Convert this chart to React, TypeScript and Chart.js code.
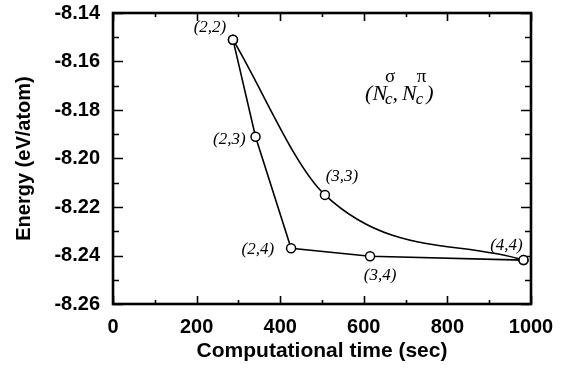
import React, { useEffect, useRef } from "react";
import { Chart, registerables } from "chart.js";

Chart.register(...registerables);

// Data
const seriesATime = [287, 341, 426, 615, 982];
const seriesAEnergy = [-8.151, -8.191, -8.237, -8.2403, -8.2419];
const seriesALabels = ["(2,2)", "(2,3)", "(2,4)", "(3,4)", "(4,4)"];

const seriesBTime = [287, 507, 982];
const seriesBEnergy = [-8.151, -8.215, -8.2419];
const seriesBLabels = ["", "(3,3)", ""];

const xMin = 0;
const xMax = 1000;
const xStep = 200;
const xMinorStep = 100;
const yMin = -8.26;
const yMax = -8.14;
const yStep = 0.02;
const yMinorStep = 0.01;

const xTitle = "Computational time (sec)";
const yTitle = "Energy (eV/atom)";

// Note position (data coordinates) for the (N_c^σ, N_c^π) legend text
const noteX = 603;
const noteY = -8.1758;

const SANS = '"Liberation Sans", Arial, Helvetica, sans-serif';
const SERIF = '"Liberation Serif", "Times New Roman", serif';

type Off = { dx: number; dy: number; align: CanvasTextAlign };
const offsA: Off[] = [
  { dx: -23, dy: -12, align: "center" },
  { dx: -10, dy: 3, align: "right" },
  { dx: -17, dy: 1, align: "right" },
  { dx: 10, dy: 19, align: "center" },
  { dx: -17, dy: -15, align: "center" },
];
const offsB: Off[] = [
  { dx: 0, dy: 0, align: "center" },
  { dx: 17, dy: -18, align: "center" },
  { dx: 0, dy: 0, align: "center" },
];

const framePlugin = {
  id: "frameTicks",
  beforeDatasetsDraw(chart: any) {
    const { ctx, chartArea } = chart;
    const xs = chart.scales.x;
    const ys = chart.scales.y;
    const { left, right, top, bottom } = chartArea;
    ctx.save();
    ctx.strokeStyle = "#000";
    ctx.lineWidth = 1.6;
    const nx = Math.round((xMax - xMin) / xMinorStep);
    for (let i = 0; i <= nx; i++) {
      const v = xMin + i * xMinorStep;
      const px = Math.round(xs.getPixelForValue(v)) + 0.5;
      const major = i % Math.round(xStep / xMinorStep) === 0;
      const len = major ? 8 : 4;
      ctx.beginPath();
      ctx.moveTo(px, bottom);
      ctx.lineTo(px, bottom - len);
      ctx.moveTo(px, top);
      ctx.lineTo(px, top + len);
      ctx.stroke();
    }
    const ny = Math.round((yMax - yMin) / yMinorStep);
    for (let i = 0; i <= ny; i++) {
      const v = yMin + i * yMinorStep;
      const py = Math.round(ys.getPixelForValue(v)) + 0.5;
      const major = i % Math.round(yStep / yMinorStep) === 0;
      const len = major ? 10 : 6;
      ctx.beginPath();
      ctx.moveTo(left, py);
      ctx.lineTo(left + len, py);
      ctx.moveTo(right, py);
      ctx.lineTo(right - len, py);
      ctx.stroke();
    }
    ctx.lineWidth = 2.6;
    ctx.strokeRect(left, top, right - left, bottom - top);
    ctx.restore();
  },
  afterDatasetsDraw(chart: any) {
    const { ctx } = chart;
    ctx.save();
    ctx.fillStyle = "#000";
    ctx.textBaseline = "middle";
    ctx.font = `italic 17px ${SERIF}`;
    const drawLabels = (di: number, labels: string[], offs: Off[]) => {
      const meta = chart.getDatasetMeta(di);
      labels.forEach((t, i) => {
        if (!t) return;
        const el = meta.data[i];
        ctx.textAlign = offs[i].align;
        ctx.fillText(t, el.x + offs[i].dx, el.y + offs[i].dy);
      });
    };
    drawLabels(0, seriesALabels, offsA);
    drawLabels(1, seriesBLabels, offsB);

    // (N_c^σ, N_c^π)
    const xs = chart.scales.x;
    const ys = chart.scales.y;
    let x = xs.getPixelForValue(noteX);
    const base = ys.getPixelForValue(noteY);
    ctx.textBaseline = "alphabetic";
    ctx.textAlign = "left";
    const mainFont = `italic 22px ${SERIF}`;
    const subFont = `italic 17px ${SERIF}`;
    const supFont = `19px ${SERIF}`;
    const put = (t: string, font: string, dy: number, dx = 0) => {
      ctx.font = font;
      ctx.fillText(t, x + dx, base + dy);
      return ctx.measureText(t).width;
    };
    x += put("(", mainFont, 0);
    x += put("N", mainFont, 0) - 2;
    put("σ", supFont, -18, 0);
    x += put("c", subFont, 4);
    x += put(",", mainFont, 0) + 4;
    x += put("N", mainFont, 0) - 1;
    put("π", supFont, -18, 1);
    x += put("c", subFont, 4) + 3;
    put(")", mainFont, 0);
    ctx.restore();
  },
};

export default function App() {
  const canvasRef = useRef<HTMLCanvasElement | null>(null);

  useEffect(() => {
    if (!canvasRef.current) return;
    const dataA = seriesATime.map((t, i) => ({ x: t, y: seriesAEnergy[i] }));
    const dataB = seriesBTime.map((t, i) => ({ x: t, y: seriesBEnergy[i] }));
    const pointStyle = {
      pointRadius: 4.5,
      pointBorderWidth: 1.5,
      pointBackgroundColor: "#fff",
      pointBorderColor: "#000",
      borderColor: "#000",
      borderWidth: 1.6,
      fill: false,
    };
    const chart = new Chart(canvasRef.current, {
      type: "line",
      data: {
        datasets: [
          { label: "A", data: dataA, tension: 0, ...pointStyle, order: 1 },
          {
            label: "B",
            data: dataB,
            cubicInterpolationMode: "monotone",
            ...pointStyle,
            order: 2,
          },
        ],
      },
      options: {
        responsive: false,
        animation: false,
        devicePixelRatio: 1,
        layout: { padding: { left: 0, top: 13, right: 38, bottom: 0 } },
        plugins: {
          legend: { display: false },
          tooltip: { enabled: false },
        },
        scales: {
          x: {
            type: "linear",
            min: xMin,
            max: xMax,
            grid: { display: false, drawTicks: false },
            border: { display: false },
            ticks: {
              stepSize: xStep,
              padding: 11,
              maxRotation: 0,
              color: "#000",
              font: { family: SANS, size: 20, weight: "bold" },
              callback: (v: any) => String(v),
            },
            title: {
              display: true,
              text: xTitle,
              color: "#000",
              font: { family: SANS, size: 21, weight: "bold" },
              padding: { top: 0, bottom: 7 },
            },
            afterFit: (s: any) => {
              s.height = 67;
              s.paddingLeft = 0;
              s.paddingRight = 0;
            },
          },
          y: {
            type: "linear",
            min: yMin,
            max: yMax,
            grid: { display: false, drawTicks: false },
            border: { display: false },
            ticks: {
              stepSize: yStep,
              padding: 13,
              color: "#000",
              font: { family: SANS, size: 20, weight: "bold" },
              callback: (v: any) => Number(v).toFixed(2),
            },
            title: {
              display: true,
              text: yTitle,
              color: "#000",
              font: { family: SANS, size: 20, weight: "bold" },
              padding: { top: 12, bottom: 0 },
            },
            afterFit: (s: any) => {
              s.width = 113;
              s.paddingTop = 0;
              s.paddingBottom = 0;
            },
          },
        },
      } as any,
      plugins: [framePlugin],
    });
    return () => chart.destroy();
  }, []);

  return (
    <div
      style={{
        position: "fixed",
        left: 0,
        top: 0,
        width: 569,
        height: 371,
        background: "#fff",
      }}
    >
      <canvas
        ref={canvasRef}
        width={569}
        height={371}
        style={{ display: "block", width: 569, height: 371 }}
      />
    </div>
  );
}
